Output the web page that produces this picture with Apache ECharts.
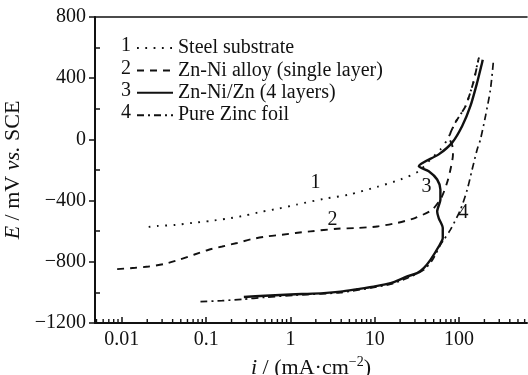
<!DOCTYPE html>
<html>
<head>
<meta charset="utf-8">
<script src="https://cdn.jsdelivr.net/npm/echarts@6/dist/echarts.min.js"></script>
<style>html,body{margin:0;padding:0;background:#fff}#c{width:528px;height:375px}</style>
</head>
<body>
<div id="c"></div>
<script>
// ---- data (current density i in mA/cm2, potential E in mV vs SCE) ----
const seriesNames = ['Steel substrate', 'Zn-Ni alloy (single layer)', 'Zn-Ni/Zn (4 layers)', 'Pure Zinc foil'];
const seriesNumbers = ['1', '2', '3', '4'];

const steel = [[0.0208,-572],[0.0262,-566],[0.0432,-559],[0.0682,-546],[0.1125,-533],[0.1775,-518],[0.287,-498],[0.461,-472],[0.727,-452],[1.18,-426],[2.48,-389],[4.91,-361],[10.7,-310],[20.2,-262],[33.3,-208],[45.8,-131],[60.1,-66],[72.8,0],[90.6,111],[119,216],[148,374],[170,524],[184.5,572]];

const alloy = [[0.00879,-848],[0.0145,-839],[0.0208,-831],[0.0314,-815],[0.0473,-787],[0.0713,-754],[0.1074,-721],[0.155,-700],[0.233,-677],[0.351,-651],[0.529,-634],[0.797,-623],[1.15,-612],[1.73,-601],[3.58,-584],[6.18,-579],[10.7,-569],[18.4,-546],[30.4,-513],[48.0,-459],[61.8,-380],[72.2,-282],[79.1,-197],[84.7,-98],[83.6,-46],[76.9,13],[90.6,111],[119,216],[148,374],[170,524]];

const layered = [[0.28,-1030],[0.5,-1022],[1.15,-1012],[1.58,-1010],[2.48,-1005],[3.92,-995],[6.18,-979],[9.73,-962],[15.4,-940],[24.2,-896],[31.8,-874],[38.1,-841],[45.8,-787],[57.4,-700],[64.1,-645],[64.1,-579],[57.4,-514],[55.0,-471],[60.1,-393],[60.1,-328],[55.0,-262],[43.7,-208],[33.3,-175],[57.4,-98],[82.8,-21],[109,88],[136.6,219],[164,372],[188,503],[191,520]];

const zinc = [[0.0856,-1060],[0.155,-1054],[0.267,-1045],[0.5,-1032],[1.15,-1018],[3.92,-1001],[9.73,-968],[15.4,-946],[24.2,-907],[38.1,-853],[48.5,-787],[60.1,-689],[65.9,-656],[79.1,-590],[104,-459],[125,-328],[143,-197],[164,-66],[179.5,0],[206,153],[236,328],[256,515]];

// curve number annotations [i, E]
const labelPos = [[1.98,-282],[3.15,-525],[41,-308],[113,-479]];

// axis
const xMin = 0.0048, xMax = 640;
const yMin = -1200, yMax = 800, yInterval = 400;
const xMinorTicks = [0.005,0.006,0.007,0.008,0.009,0.02,0.03,0.04,0.05,0.06,0.07,0.08,0.09,0.2,0.3,0.4,0.5,0.6,0.7,0.8,0.9,2,3,4,5,6,7,8,9,20,30,40,50,60,70,80,90,200,300,400,500,600];

const FONT = "'Liberation Serif','Times New Roman',serif";
const INK = '#111';

const styles = [
  {type: [1.8, 6.5], width: 1.9},
  {type: [7, 6], width: 1.9},
  {type: 'solid', width: 2.4},
  {type: [7, 4, 2, 4], width: 1.7}
];
const datasets = [steel, alloy, layered, zinc];

const chart = echarts.init(document.getElementById('c'), null, {renderer: 'canvas'});

const lineSeries = datasets.map((d, k) => ({
  name: seriesNames[k],
  type: 'line',
  data: d,
  symbol: 'none',
  smooth: 0.25,
  clip: false,
  lineStyle: Object.assign({color: INK}, styles[k]),
  itemStyle: {color: INK},
  z: 3,
  markPoint: {
    symbol: 'circle',
    symbolSize: 0,
    silent: true,
    label: {show: true, position: 'inside', formatter: seriesNumbers[k], color: INK, fontFamily: FONT, fontSize: 20},
    data: [{coord: labelPos[k]}]
  }
}));

const minorSeries = {
  type: 'custom',
  silent: true,
  clip: false,
  z: 5,
  data: xMinorTicks.map(v => [v, yMin]),
  encode: {x: 0, y: 1},
  renderItem: function (params, api) {
    const p = api.coord([api.value(0), api.value(1)]);
    return {type: 'line', shape: {x1: p[0], y1: p[1], x2: p[0], y2: p[1] - 4}, style: {stroke: INK, lineWidth: 1.4}};
  }
};

const minusFmt = v => (v < 0 ? '\u2212' + Math.abs(v) : String(v));

chart.setOption({
  animation: false,
  backgroundColor: '#fff',
  grid: {left: 95, right: 1, top: 17, bottom: 52, outerBoundsMode: 'none', containLabel: false},
  legend: {
    data: seriesNames,
    orient: 'vertical',
    left: 131, top: 33,
    itemWidth: 36, itemHeight: 14, itemGap: 2.4,
    itemStyle: {opacity: 0, borderWidth: 0},
    textStyle: {fontFamily: FONT, fontSize: 20, lineHeight: 20, color: INK},
    selectedMode: false
  },
  graphic: seriesNumbers.map((n, k) => ({
    type: 'text', right: 528 - 131, top: 36 + k * 22.4,
    style: {text: n, fontFamily: FONT, fontSize: 20, fill: INK}
  })),
  xAxis: [{
    type: 'log', logBase: 10, min: xMin, max: xMax,
    name: '{it|i} / (mA\u00b7cm{sup|\u22122})',
    nameLocation: 'middle', nameGap: 30,
    nameTextStyle: {fontFamily: FONT, fontSize: 22, color: INK,
      rich: {it: {fontFamily: FONT, fontSize: 22, fontStyle: 'italic', color: INK},
             sup: {fontFamily: FONT, fontSize: 14, color: INK, padding: [0, 0, 12, 0]}}},
    axisLine: {onZero: false, lineStyle: {color: INK, width: 2}},
    axisTick: {inside: true, length: 6, lineStyle: {color: INK, width: 1.5}},
    axisLabel: {fontFamily: FONT, fontSize: 20, color: INK, margin: 7, showMinLabel: false, showMaxLabel: false},
    splitLine: {show: false},
    minorTick: {show: false}
  }, {
    type: 'log', logBase: 10, min: xMin, max: xMax, position: 'top',
    axisLine: {show: true, onZero: false, lineStyle: {color: INK, width: 1.6}},
    axisTick: {show: false}, axisLabel: {show: false}, splitLine: {show: false}
  }],
  yAxis: {
    type: 'value', min: yMin, max: yMax, interval: yInterval,
    name: '{it|E} / mV {it|vs.} SCE',
    nameLocation: 'middle', nameGap: 66, nameRotate: 90,
    nameTextStyle: {fontFamily: FONT, fontSize: 22, color: INK,
      rich: {it: {fontFamily: FONT, fontSize: 22, fontStyle: 'italic', color: INK}}},
    axisLine: {onZero: false, lineStyle: {color: INK, width: 2}},
    axisTick: {inside: false, length: 6, lineStyle: {color: INK, width: 1.5}},
    minorTick: {show: true, splitNumber: 2, length: -5, lineStyle: {color: INK, width: 1.5}},
    axisLabel: {fontFamily: FONT, fontSize: 20, color: INK, margin: 9, formatter: minusFmt},
    splitLine: {show: false}
  },
  series: lineSeries.concat([minorSeries])
});
</script>
</body>
</html>
